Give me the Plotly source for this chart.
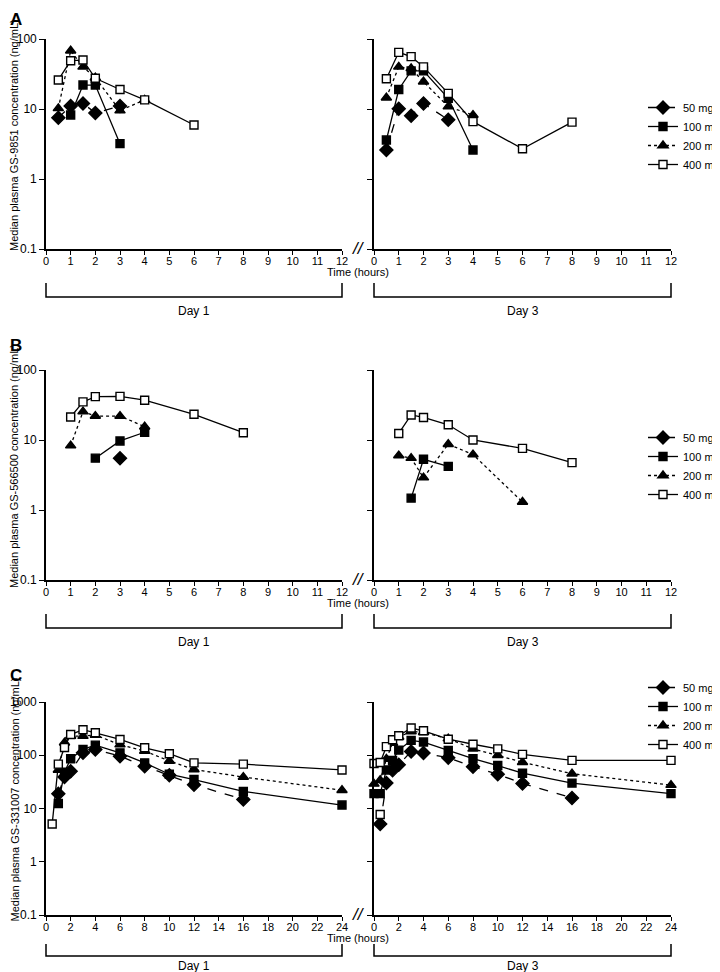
import plotly.graph_objects as go

# page offset: the browser body adds an 8px margin around the figure
OFF = 8
W, H = 720 - OFF, 972 - OFF

# ---------------- data ----------------
doses = ["50 mg", "100 mg", "200 mg", "400 mg"]

# Panel A: GS-9851
a_d1_50_t = [0.5, 1, 1.5, 2, 3]
a_d1_50_v = [7.5, 11, 12, 8.8, 11]
a_d1_100_t = [1, 1.5, 2, 3]
a_d1_100_v = [8.2, 22, 22, 3.2]
a_d1_200_t = [0.5, 1, 1.5, 2, 3, 4]
a_d1_200_v = [10.2, 68, 40, 28, 9.5, 13.5]
a_d1_400_t = [0.5, 1, 1.5, 2, 3, 4, 6]
a_d1_400_v = [26, 49, 50, 27.5, 19, 13.5, 5.9]

a_d3_50_t = [0.5, 1, 1.5, 2, 3]
a_d3_50_v = [2.6, 10.1, 8.0, 12, 7.0]
a_d3_100_t = [0.5, 1, 1.5, 2, 3, 4]
a_d3_100_v = [3.6, 19, 35, 35, 14.2, 2.6]
a_d3_200_t = [0.5, 1, 1.5, 2, 3, 4]
a_d3_200_v = [14.5, 40, 38, 24.5, 10.8, 8.2]
a_d3_400_t = [0.5, 1, 1.5, 2, 3, 4, 6, 8]
a_d3_400_v = [27, 64.5, 56, 40, 16.7, 6.6, 2.7, 6.5]

# Panel B: GS-566500
b_d1_50_t = [3]
b_d1_50_v = [5.5]
b_d1_100_t = [2, 3, 4]
b_d1_100_v = [5.5, 9.7, 12.9]
b_d1_200_t = [1, 1.5, 2, 3, 4]
b_d1_200_v = [8.3, 25.4, 22, 22, 15.5]
b_d1_400_t = [1, 1.5, 2, 3, 4, 6, 8]
b_d1_400_v = [21.3, 35, 41.6, 42, 37, 23.3, 12.7]

b_d3_50_t = []
b_d3_50_v = []
b_d3_100_t = [1.5, 2, 3]
b_d3_100_v = [1.48, 5.3, 4.2]
b_d3_200_t = [1, 1.5, 2, 3, 4, 6]
b_d3_200_v = [6.0, 5.5, 2.9, 8.7, 6.2, 1.3]
b_d3_400_t = [1, 1.5, 2, 3, 4, 6, 8]
b_d3_400_v = [12.4, 22.8, 21, 16.5, 10, 7.6, 4.75]

# Panel C: GS-331007
c_d1_50_t = [1, 1.5, 2, 3, 4, 6, 8, 10, 12, 16]
c_d1_50_v = [19, 39, 50, 111, 128, 96, 62, 42, 28, 14.8]
c_d1_100_t = [1, 1.5, 2, 3, 4, 6, 8, 10, 12, 16, 24]
c_d1_100_v = [12.4, 48, 86, 129, 155, 111, 72, 44, 35, 21, 11.6]
c_d1_200_t = [1, 1.5, 2, 3, 4, 6, 8, 10, 12, 16, 24]
c_d1_200_v = [53, 172, 230, 229, 240, 158, 120, 78, 54, 39, 22]
c_d1_400_t = [0.5, 1, 1.5, 2, 3, 4, 6, 8, 10, 12, 16, 24]
c_d1_400_v = [5.1, 68, 140, 245, 302, 265, 198, 138, 107, 72, 68, 53]

c_d3_50_t = [0.5, 1, 1.5, 2, 3, 4, 6, 8, 10, 12, 16]
c_d3_50_v = [5.1, 30, 52, 66, 118, 110, 90, 61, 44, 29.5, 15.8]
c_d3_100_t = [0, 0.5, 1, 1.5, 2, 3, 4, 6, 8, 10, 12, 16, 24]
c_d3_100_v = [19, 19, 53, 80, 125, 190, 177, 123, 86, 64, 46, 30, 19]
c_d3_200_t = [0, 0.5, 1, 1.5, 2, 3, 4, 6, 8, 10, 12, 16, 24]
c_d3_200_v = [29, 34, 85, 170, 220, 280, 270, 205, 132, 100, 74, 45, 27.5]
c_d3_400_t = [0, 0.5, 1, 1.5, 2, 3, 4, 6, 8, 10, 12, 16, 24]
c_d3_400_v = [70, 73, 145, 195, 232, 324, 288, 200, 161, 132, 104, 80, 80]
c_d3_400x_t = [0.5]
c_d3_400x_v = [7.7]

analytes = ["GS-9851", "GS-566500", "GS-331007"]
panel_letters = ["A", "B", "C"]
day_labels = ["Day 1", "Day 3"]
x_max = [12, 12, 24]
x_dtick = [1, 1, 2]
y_ticks = [[0.1, 1, 10, 100], [0.1, 1, 10, 100], [0.1, 1, 10, 100, 1000]]
y_ticktext = [["0.1", "1", "10", "100"], ["0.1", "1", "10", "100"],
              ["0.1", "1", "10", "100", "1000"]]

panels = [
    [[(a_d1_50_t, a_d1_50_v), (a_d1_100_t, a_d1_100_v), (a_d1_200_t, a_d1_200_v), (a_d1_400_t, a_d1_400_v)],
     [(a_d3_50_t, a_d3_50_v), (a_d3_100_t, a_d3_100_v), (a_d3_200_t, a_d3_200_v), (a_d3_400_t, a_d3_400_v)]],
    [[(b_d1_50_t, b_d1_50_v), (b_d1_100_t, b_d1_100_v), (b_d1_200_t, b_d1_200_v), (b_d1_400_t, b_d1_400_v)],
     [(b_d3_50_t, b_d3_50_v), (b_d3_100_t, b_d3_100_v), (b_d3_200_t, b_d3_200_v), (b_d3_400_t, b_d3_400_v)]],
    [[(c_d1_50_t, c_d1_50_v), (c_d1_100_t, c_d1_100_v), (c_d1_200_t, c_d1_200_v), (c_d1_400_t, c_d1_400_v)],
     [(c_d3_50_t, c_d3_50_v), (c_d3_100_t, c_d3_100_v), (c_d3_200_t, c_d3_200_v), (c_d3_400_t, c_d3_400_v)]],
]

# ---------------- styles / layout geometry (page pixels) ----------------
FONT = "Liberation Sans, Arial, Helvetica, sans-serif"
styles = [
    dict(dash="dash", symbol="diamond", size=10, fill="black"),
    dict(dash="solid", symbol="square", size=8, fill="black"),
    dict(dash="dot", symbol="triangle-up", size=9, fill="black"),
    dict(dash="solid", symbol="square", size=8, fill="white"),
]
x_left = [(46, 342), (374, 671)]
y_px = [(39, 249), (370, 580), (702, 915)]   # top, bottom of each panel
legend_top = [93, 423, 673]
bracket_off = [(34, 48, 62), (34, 48, 62), (29, 41, 51)]


def px_x(p):
    return (p - OFF) / W


def px_y(p):
    return 1 - (p - OFF) / H


fig = go.Figure()
layout = {}
shapes = []
annotations = []

for pi in range(3):
    top, bot = y_px[pi]
    for si in range(2):
        k = 2 * pi + si + 1
        xa = "x" if k == 1 else f"x{k}"
        ya = "y" if k == 1 else f"y{k}"
        lg = "legend" if pi == 0 else f"legend{pi + 1}"
        for di in range(4):
            st = styles[di]
            t, v = panels[pi][si][di]
            fig.add_trace(go.Scatter(
                x=t, y=v, mode="lines+markers", name=doses[di],
                xaxis=xa, yaxis=ya, legend=lg, showlegend=(si == 0),
                cliponaxis=False,
                line=dict(color="black", width=1.3, dash=st["dash"]),
                marker=dict(symbol=st["symbol"], size=st["size"], color=st["fill"],
                            line=dict(color="black", width=1.4)),
            ))
        x0, x1 = x_left[si]
        layout[f"xaxis{k}"] = dict(
            domain=[px_x(x0), px_x(x1)], range=[0, x_max[pi]], dtick=x_dtick[pi],
            anchor=ya, showline=True, linecolor="black", linewidth=1.6,
            ticks="outside", ticklen=4, tickwidth=1.4, tickcolor="black",
            showgrid=False, zeroline=False, automargin=False,
            ticklabelstandoff=-3,
            tickfont=dict(family=FONT, size=11, color="black"),
        )
        layout[f"yaxis{k}"] = dict(
            domain=[px_y(bot), px_y(top)], type="log",
            range=[-1, 3 if pi == 2 else 2], anchor=xa,
            tickvals=y_ticks[pi], ticktext=y_ticktext[pi], showticklabels=(si == 0),
            showline=True, linecolor="black", linewidth=1.6,
            ticks="outside", ticklen=5, tickwidth=1.4, tickcolor="black",
            showgrid=False, zeroline=False, automargin=False,
            tickfont=dict(family=FONT, size=12, color="black"),
        )
        # Day bracket
        o0, o1, o2 = bracket_off[pi]
        by0, by1 = bot + o0, bot + o1
        shapes.append(dict(
            type="path", xref="paper", yref="paper",
            path=f"M {px_x(x0)},{px_y(by0)} L {px_x(x0)},{px_y(by1)} L {px_x(x1)},{px_y(by1)} L {px_x(x1)},{px_y(by0)}",
            line=dict(color="black", width=1.5),
        ))
        annotations.append(dict(
            text=day_labels[si], xref="paper", yref="paper",
            x=px_x((x0 + x1) / 2), y=px_y(bot + o2), xanchor="center", yanchor="middle",
            showarrow=False, font=dict(family=FONT, size=12, color="black"),
        ))
    # legend for this panel
    lname = "legend" if pi == 0 else f"legend{pi + 1}"
    layout[lname] = dict(
        x=px_x(643), y=px_y(legend_top[pi]), xanchor="left", yanchor="top",
        bgcolor="rgba(0,0,0,0)", itemwidth=30, tracegroupgap=0,
        font=dict(family=FONT, size=11, color="black"),
    )
    # y title
    annotations.append(dict(
        text=f"Median plasma {analytes[pi]} concentration (ng/mL)",
        xref="paper", yref="paper", x=px_x(14), y=px_y((top + bot) / 2 - 9),
        xanchor="center", yanchor="middle", textangle=-90, showarrow=False,
        font=dict(family=FONT, size=11, color="black"),
    ))
    # time label
    annotations.append(dict(
        text="Time (hours)", xref="paper", yref="paper",
        x=px_x(358), y=px_y(bot + 23), xanchor="center", yanchor="middle",
        showarrow=False, font=dict(family=FONT, size=11, color="black"),
    ))
    # axis break mark
    annotations.append(dict(
        text="<i>//</i>", xref="paper", yref="paper",
        x=px_x(358), y=px_y(bot - 1), xanchor="center", yanchor="middle",
        showarrow=False, font=dict(family=FONT, size=17, color="black"),
    ))
    # panel letter
    annotations.append(dict(
        text=f"<b>{panel_letters[pi]}</b>", xref="paper", yref="paper",
        x=px_x(8), y=px_y([8, 334, 664][pi]), xanchor="left", yanchor="top",
        showarrow=False, font=dict(family=FONT, size=17, color="black"),
    ))

# extra day-3 400 mg point in panel C
fig.add_trace(go.Scatter(
    x=c_d3_400x_t, y=c_d3_400x_v, mode="markers", xaxis="x6", yaxis="y6",
    showlegend=False, cliponaxis=False,
    marker=dict(symbol="square", size=8, color="white", line=dict(color="black", width=1.4)),
))

layout["xaxis"] = layout.pop("xaxis1")
layout["yaxis"] = layout.pop("yaxis1")
fig.update_layout(
    width=W, height=H, margin=dict(l=0, r=0, t=0, b=0, autoexpand=False),
    paper_bgcolor="white", plot_bgcolor="white",
    shapes=shapes, annotations=annotations, **layout,
)
fig.write_html("out.html")
